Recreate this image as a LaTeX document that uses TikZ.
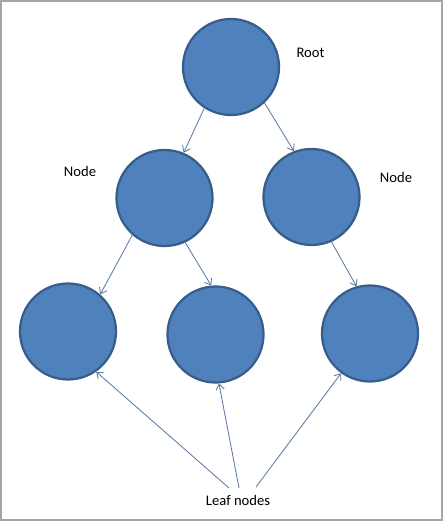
\documentclass[tikz,border=0pt]{standalone}
\usepackage{fontspec}
\setmainfont{Carlito}
\usepackage{tikz}
\usetikzlibrary{arrows.meta,positioning,calc}
\usepackage{xcolor}
\definecolor{BallFill}{HTML}{4F81BD}
\definecolor{BallEdge}{HTML}{385D8A}
\definecolor{LinkColor}{HTML}{5B7BA6}
\definecolor{FrameGray}{HTML}{A6A6A6}

\begin{document}
\begin{tikzpicture}[x=0.025cm,y=-0.025cm,
    ball/.style={circle,fill=BallFill,draw=BallEdge,line width=1.6pt,minimum size=2.4cm,inner sep=0pt},
    lbl/.style={font=\fontsize{10.4}{12}\selectfont,text=black,inner sep=1pt},
    link/.style={-{Straight Barb[length=4pt,width=6pt]},LinkColor,line width=0.6pt}]
        \useasboundingbox(0,0)rectangle(444,522);
        \draw[FrameGray,line width=1.4pt](1,1)rectangle(442,520);
        % the tree
        \node[ball](root)at(231,67){};
        \node[ball](nodeL)at(164.5,198){};
        \node[ball](nodeR)at(311.5,197){};
        \node[ball](leafA)at(68,331.5){};
        \node[ball](leafB)at(215.5,334.5){};
        \node[ball](leafC)at(370,333.5){};
        % labels
        \node[lbl](rootlbl)at(310.5,52.5){Root};
        \node[lbl](nodelblL)at(80,171){Node};
        \node[lbl](nodelblR)at(396,177){Node};
        \node[lbl](leaflbl)at(238,500){Leaf nodes};
        % edges
        \draw[link](root.237.6)--(nodeL.67.6);
        \draw[link](root.313.5)--(nodeR.111);
        \draw[link](nodeL.229.6)--(leafA.49.5);
        \draw[link](nodeL.295.6)--(leafB.95);
        \draw[link](nodeR.294)--(leafC.106);
        \draw[link]($(leaflbl.center)+(-9,-12)$)--(leafA.305);
        \draw[link]($(leaflbl.center)+(1,-12)$)--(leafB.274);
        \draw[link]($(leaflbl.center)+(18,-13)$)--(leafC.234);
\end{tikzpicture}
\end{document}
